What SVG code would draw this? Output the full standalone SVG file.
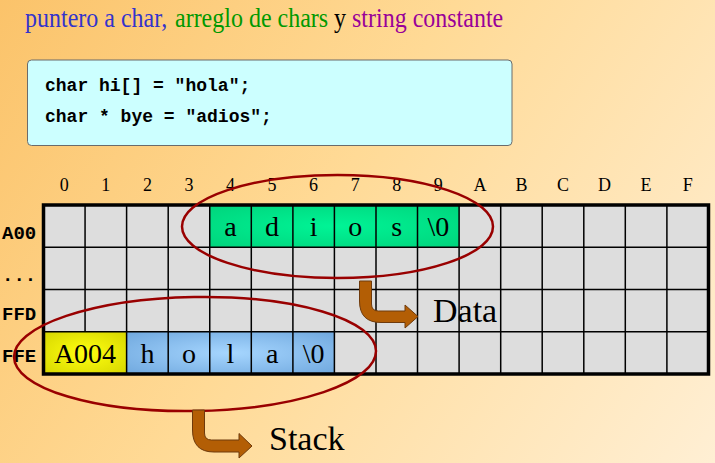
<svg xmlns="http://www.w3.org/2000/svg" width="715" height="463" viewBox="0 0 715 463">
<defs>
<linearGradient id="bg" gradientUnits="userSpaceOnUse" x1="0" y1="0" x2="715" y2="463">
<stop offset="0" stop-color="#FBC36A"/>
<stop offset="0.45" stop-color="#FFDA96"/>
<stop offset="1" stop-color="#FFEFD4"/>
</linearGradient>
<radialGradient id="gGreen" cx="0.5" cy="0.5" r="0.7">
<stop offset="0" stop-color="#00F496"/>
<stop offset="1" stop-color="#00D47C"/>
</radialGradient>
<radialGradient id="gBlue" cx="0.5" cy="0.5" r="0.7">
<stop offset="0" stop-color="#A6D6FF"/>
<stop offset="1" stop-color="#70A8DE"/>
</radialGradient>
<radialGradient id="gYellow" cx="0.5" cy="0.5" r="0.7">
<stop offset="0" stop-color="#FFFF10"/>
<stop offset="1" stop-color="#D6D600"/>
</radialGradient>
<style>
.title{font-family:"Liberation Serif","Times New Roman",serif;font-size:24px}
.code{font-family:"Liberation Mono","Courier New",monospace;font-weight:bold;font-size:18px;fill:#000}
.hdr{font-family:"Liberation Serif","Times New Roman",serif;font-size:18px;fill:#000;text-anchor:middle}
.rowlbl{font-family:"Liberation Mono","Courier New",monospace;font-weight:bold;font-size:19px;fill:#000}
.cell{fill:#DDDDDD}
.grid{stroke:#000;stroke-width:1.5;fill:none}
.val{font-family:"Liberation Serif","Times New Roman",serif;font-size:28px;fill:#000;text-anchor:middle}
.big{font-family:"Liberation Serif","Times New Roman",serif;font-size:34px;fill:#000}
.ell{fill:none;stroke:#990000;stroke-width:2.5}
.arrow{fill:#B35E05;stroke:#6E3A0C;stroke-width:1}
</style>
</defs>
<rect x="0" y="0" width="715" height="463" fill="url(#bg)"/>

<g id="title">
<text class="title" transform="translate(0,27) scale(1,1.12)" x="25" y="0"><tspan fill="#3333CC">puntero a char,</tspan><tspan x="175" fill="#009900">arreglo de chars</tspan><tspan x="334" fill="#000000">y</tspan><tspan x="352" fill="#990099">string constante</tspan></text>
</g>

<g id="code-box">
<rect x="27.5" y="60" width="484.5" height="85.5" rx="4" fill="#CCFFFF" stroke="#6B6B6B" stroke-width="1"/>
<text class="code" x="45" y="91">char hi[] = "hola";</text>
<text class="code" x="45" y="122">char * bye = "adios";</text>
</g>

<g id="column-headers">
<text class="hdr" x="64.3" y="191">0</text>
<text class="hdr" x="105.8" y="191">1</text>
<text class="hdr" x="147.4" y="191">2</text>
<text class="hdr" x="189" y="191">3</text>
<text class="hdr" x="230.5" y="191">4</text>
<text class="hdr" x="272.1" y="191">5</text>
<text class="hdr" x="313.6" y="191">6</text>
<text class="hdr" x="355.2" y="191">7</text>
<text class="hdr" x="396.8" y="191">8</text>
<text class="hdr" x="438.3" y="191">9</text>
<text class="hdr" x="479.9" y="191">A</text>
<text class="hdr" x="521.4" y="191">B</text>
<text class="hdr" x="563" y="191">C</text>
<text class="hdr" x="604.6" y="191">D</text>
<text class="hdr" x="646.1" y="191">E</text>
<text class="hdr" x="687.7" y="191">F</text>
</g>

<g id="row-labels">
<text class="rowlbl" x="2" y="239">A00</text>
<text class="rowlbl" x="2" y="281">...</text>
<text class="rowlbl" x="2" y="320">FFD</text>
<text class="rowlbl" x="2" y="362">FFE</text>
</g>

<g id="memory-grid">
<rect class="cell" x="43.5" y="205" width="665" height="169"/>
<rect x="209.75" y="205" width="249.35" height="42.25" fill="url(#gGreen)"/>
<rect x="43.5" y="331.75" width="83.1" height="42.25" fill="url(#gYellow)"/>
<rect x="126.6" y="331.75" width="207.8" height="42.25" fill="url(#gBlue)"/>
<path class="grid" d="M85.06 205V331.75M126.6 205V374M168.2 205V374M209.75 205V374M251.3 205V374M292.9 205V374M334.4 205V374M376 205V374M417.5 205V374M459.1 205V374M500.7 205V374M542.2 205V374M583.8 205V374M625.3 205V374M666.9 205V374M43.5 247.25H708.5M43.5 289.5H708.5M43.5 331.75H708.5"/>
<rect x="43.5" y="205" width="665" height="169" fill="none" stroke="#000" stroke-width="3.5"/>
</g>

<g id="string-adios">
<text class="val" x="230.5" y="236">a</text>
<text class="val" x="272.1" y="236">d</text>
<text class="val" x="313.6" y="236">i</text>
<text class="val" x="355.2" y="236">o</text>
<text class="val" x="396.8" y="236">s</text>
<text class="val" x="438.3" y="236">\0</text>
</g>

<g id="pointer-bye">
<text class="val" x="85" y="363">A004</text>
</g>

<g id="array-hi">
<text class="val" x="147.4" y="363">h</text>
<text class="val" x="189" y="363">o</text>
<text class="val" x="230.5" y="363">l</text>
<text class="val" x="272.1" y="363">a</text>
<text class="val" x="313.6" y="363">\0</text>
</g>

<g id="data-region">
<ellipse class="ell" cx="337.5" cy="226.5" rx="155.5" ry="51.5"/>
<text class="big" x="433" y="322">Data</text>
</g>

<g id="stack-region">
<ellipse class="ell" cx="195" cy="354" rx="181" ry="57" transform="rotate(-1 195 354)"/>
<text class="big" x="269" y="450">Stack</text>
</g>

<g id="connectors">
<path class="arrow" d="M359.5,281 L371.5,281 L371.5,304 Q371.5,311 378.5,311 L405,311 L405,305 L418,316.5 L405,328 L405,322.5 L381,322.5 Q359.5,322.5 359.5,301 Z"/>
<path class="arrow" d="M192.5,410 L204.5,410 L204.5,433 Q204.5,440 211.5,440 L239,440 L239,433.5 L252,446 L239,458 L239,452 L214,452 Q192.5,452 192.5,430 Z"/>
</g>
</svg>
